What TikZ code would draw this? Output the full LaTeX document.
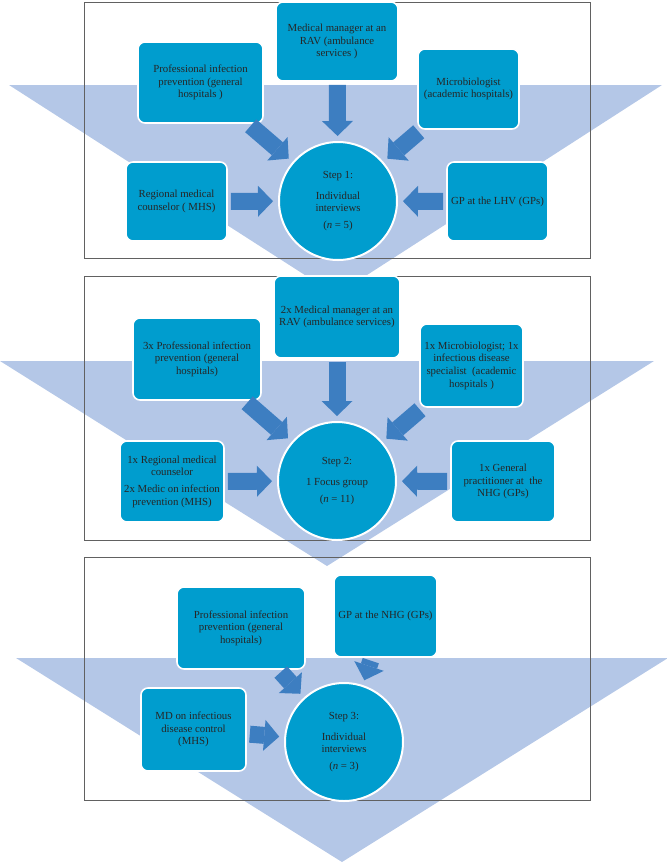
\documentclass[tikz,border=0pt]{standalone}
\usepackage{fontspec}
\setmainfont{Liberation Serif}
\usetikzlibrary{arrows.meta}
\definecolor{boxblue}{RGB}{0,157,206}
\definecolor{arrowblue}{RGB}{61,126,193}
\definecolor{trilight}{RGB}{180,199,231}
\begin{document}
\begin{tikzpicture}[x=1pt,y=-1pt,
  font=\fontsize{10.8}{12.6}\selectfont,
  bx/.style={draw=white, line width=1.6pt, fill=boxblue, rounded corners=7pt, align=center, inner sep=1pt, text=black!85},
  sz/.style 2 args={minimum width=#1pt, minimum height=#2pt},
  stepc/.style={circle, draw=white, line width=2pt, fill=boxblue, minimum size=118pt, inner sep=0pt, align=center, text=black!85},
  barrow/.style={draw=arrowblue, line width=17pt, -{Triangle[length=15pt,width=31pt,line width=0pt]}, shorten <=3pt, shorten >=5pt},
  tri/.style={fill=trilight},
  panel/.style={draw=black!62, line width=0.8pt}
]
\useasboundingbox (0,0) rectangle (667,863);

% ---------------- Panel 1 ----------------
\fill[tri] (9,85) -- (662,85) -- (336,295) -- cycle;
\draw[panel] (84,2) rectangle (590,258);
\node[bx, sz={122}{79}] (top1) at (337,41.5) {Medical manager at an\\RAV (ambulance\\services )};
\node[bx, sz={125}{81}] (prof1) at (200.5,82.5) {Professional infection\\prevention (general\\hospitals )};
\node[bx, sz={101}{80}] (micro1) at (468.5,89) {Microbiologist\\(academic hospitals)};
\node[bx, sz={101}{79}] (reg1) at (176.5,201.5) {Regional medical\\counselor ( MHS)};
\node[bx, sz={101}{79}] (gp1) at (497.5,201.5) {GP at the LHV (GPs)};
\node[stepc] (c1) at (338,201) {Step 1:\\[8pt]Individual\\interviews\\[4pt](\textit{n} = 5)};
\draw[barrow] (top1) -- (c1);
\draw[barrow] (prof1) -- (c1);
\draw[barrow] (micro1) -- (c1);
\draw[barrow] (reg1) -- (c1);
\draw[barrow] (gp1) -- (c1);

% ---------------- Panel 2 ----------------
\fill[white] (84,276) rectangle (590,540);
\fill[tri] (0,361) -- (654,361) -- (327,566) -- cycle;
\draw[panel] (84,276) rectangle (590,540);
\node[bx, sz={126}{82}] (top2) at (337,317) {2x Medical manager at an\\RAV (ambulance services)};
\node[bx, sz={128}{82}] (prof2) at (197,359) {3x Professional infection\\prevention (general\\hospitals)};
\node[bx, sz={103}{83}] (micro2) at (471.5,365.5) {1x Microbiologist; 1x\\infectious disease\\specialist~ (academic\\hospitals )};
\node[bx, sz={104}{81}] (reg2) at (172,481.5) {1x Regional medical\\counselor\\[4pt]2x Medic on infection\\prevention (MHS)};
\node[bx, sz={104}{81}] (gp2) at (503,481.5) {1x General\\practitioner at~ the\\NHG (GPs)};
\node[stepc] (c2) at (337,481) {Step 2:\\[8pt]1 Focus group\\[4pt](\textit{n} = 11)};
\draw[barrow] (top2) -- (c2);
\draw[barrow] (prof2) -- (c2);
\draw[barrow] (micro2) -- (c2);
\draw[barrow] (reg2) -- (c2);
\draw[barrow] (gp2) -- (c2);

% ---------------- Panel 3 ----------------
\fill[tri] (16,658) -- (668,658) -- (342,862) -- cycle;
\draw[panel] (84,557) rectangle (590,800);
\node[bx, sz={128}{82}] (prof3) at (241,628) {Professional infection\\prevention (general\\hospitals)};
\node[bx, sz={103}{82}] (gp3) at (385.5,616) {GP at the NHG (GPs)};
\node[bx, sz={105}{83}] (md3) at (193.5,729.5) {MD on infectious\\disease control\\(MHS)};
\node[stepc] (c3) at (344,742) {Step 3:\\[8pt]Individual\\interviews\\[4pt](\textit{n} = 3)};
\draw[barrow] (prof3) -- (c3);
\draw[barrow] (gp3) -- (c3);
\draw[barrow] (md3) -- (c3);
\end{tikzpicture}
\end{document}
